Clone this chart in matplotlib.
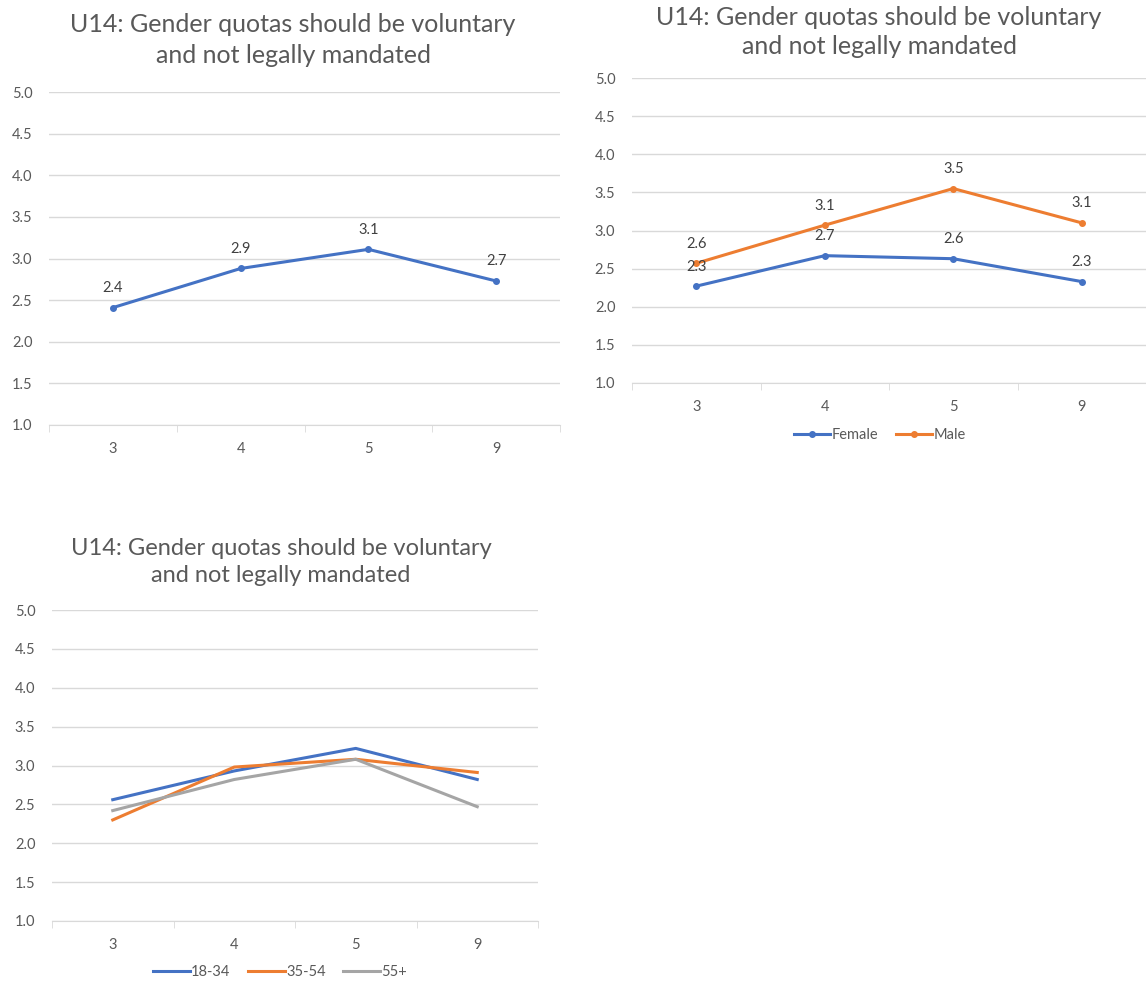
import numpy as np
import matplotlib.pyplot as plt
from matplotlib.ticker import MultipleLocator

# Data
categories = ["3", "4", "5", "9"]
overall = [2.41, 2.88, 3.11, 2.73]
female = [2.27, 2.67, 2.63, 2.33]
male = [2.57, 3.07, 3.55, 3.10]
age_18_34 = [2.56, 2.93, 3.22, 2.82]
age_35_54 = [2.30, 2.98, 3.08, 2.91]
age_55p = [2.42, 2.82, 3.08, 2.47]

title = "U14: Gender quotas should be voluntary\nand not legally mandated"

BLUE = "#4472C4"
ORANGE = "#ED7D31"
GRAY = "#A5A5A5"
TXT = "#595959"

plt.rcParams['font.family'] = ['Lato', 'DejaVu Sans']

W, H = 1146, 983
fig = plt.figure(figsize=(W / 100, H / 100), dpi=100)


def make_ax(left, right, top, bottom):
    ax = fig.add_axes([left / W, 1 - bottom / H, (right - left) / W, (bottom - top) / H])
    x = np.arange(len(categories))
    ax.set_xlim(-0.5, len(categories) - 0.5)
    ax.set_ylim(1.0, 5.0)
    ax.yaxis.set_major_locator(MultipleLocator(0.5))
    ax.yaxis.set_major_formatter(plt.FuncFormatter(lambda v, p: f"{v:.1f}"))
    ax.grid(axis="y", color="#D9D9D9", lw=1)
    ax.set_axisbelow(True)
    for s in ["top", "right", "left"]:
        ax.spines[s].set_visible(False)
    ax.spines["bottom"].set_color("#D9D9D9")
    ax.set_xticks(x)
    ax.set_xticklabels(categories)
    ax.set_xticks(np.arange(-0.5, len(categories)), minor=True)
    ax.tick_params(axis="x", which="major", length=0, pad=12, labelsize=10.5, labelcolor=TXT)
    ax.tick_params(axis="x", which="minor", length=5, color="#D9D9D9")
    ax.tick_params(axis="y", length=0, pad=12, labelsize=10.5, labelcolor=TXT)
    return ax, x


def labels(ax, x, vals):
    for xi, v in zip(x, vals):
        ax.annotate(f"{v:.1f}", (xi, v), xytext=(0, 9), textcoords="offset points",
                    ha="center", va="bottom", fontsize=10.5, color="#404040")


# Chart 1
ax1, x = make_ax(49, 560, 92, 425)
ax1.plot(x, overall, color=BLUE, lw=2.2, marker="o", ms=4)
labels(ax1, x, overall)
fig.text(293 / W, 1 - 40 / H, title, ha="center", va="center", fontsize=18,
         color=TXT, linespacing=1.4)

# Chart 2
ax2, x = make_ax(632, 1146, 78, 383)
ax2.plot(x, female, color=BLUE, lw=2.2, marker="o", ms=4, label="Female")
ax2.plot(x, male, color=ORANGE, lw=2.2, marker="o", ms=4, label="Male")
labels(ax2, x, female)
labels(ax2, x, male)
fig.text(879 / W, 1 - 32 / H, title, ha="center", va="center", fontsize=18,
         color=TXT, linespacing=1.35)
fig.legend(handles=ax2.get_lines(), loc="center", bbox_to_anchor=(880 / W, 1 - 435 / H),
           ncol=2, frameon=False, fontsize=10.5, labelcolor=TXT, handlelength=2.5,
           handletextpad=0.1, columnspacing=1.2)

# Chart 3
ax3, x = make_ax(52, 538, 610, 921)
ax3.plot(x, age_18_34, color=BLUE, lw=2.2, label="18-34")
ax3.plot(x, age_35_54, color=ORANGE, lw=2.2, label="35-54")
ax3.plot(x, age_55p, color=GRAY, lw=2.2, label="55+")
fig.text(281 / W, 1 - 562 / H, title, ha="center", va="center", fontsize=17,
         color=TXT, linespacing=1.4)
fig.legend(handles=ax3.get_lines(), loc="center", bbox_to_anchor=(280 / W, 1 - 972 / H),
           ncol=3, frameon=False, fontsize=10.5, labelcolor=TXT, handlelength=2.5,
           handletextpad=0.1, columnspacing=1.2)

fig.savefig("out.png", dpi=100, facecolor="white")
